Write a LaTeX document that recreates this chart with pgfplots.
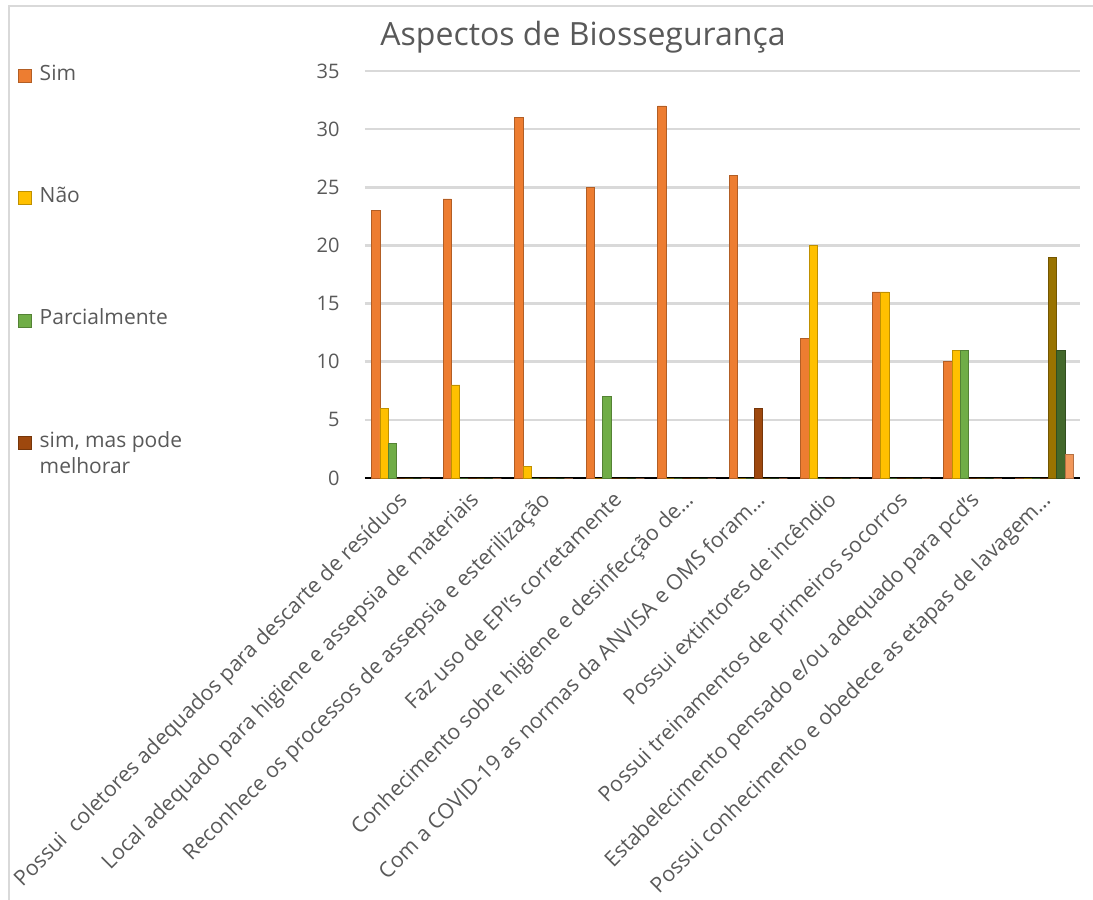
\documentclass[border=0pt]{standalone}
\usepackage{pgfplots}
\usepackage{pgfplotstable}
\pgfplotsset{compat=1.18}
\usepackage{fontspec}
\setmainfont{Open Sans}
\definecolor{cSim}{HTML}{ED7D31}
\definecolor{cNao}{HTML}{FFC000}
\definecolor{cPar}{HTML}{70AD47}
\definecolor{cMel}{HTML}{9E480E}
\definecolor{cOli}{HTML}{997300}
\definecolor{cDgr}{HTML}{43682B}
\definecolor{cLor}{HTML}{F1975A}
\definecolor{txt}{HTML}{595959}
\definecolor{gridc}{HTML}{D9D9D9}
\pgfplotstableread{
x s1 s2 s3 s4 s5 s6 s7
0 23 6 3 0 0 0 0
1 24 8 0 0 0 0 0
2 31 1 0 0 0 0 0
3 25 0 7 0 0 0 0
4 32 0 0 0 0 0 0
5 26 0 0 6 0 0 0
6 12 20 0 0 0 0 0
7 16 16 0 0 0 0 0
8 10 11 11 0 0 0 0
9 0 0 0 0 19 11 2
}\data
\begin{document}
\begin{tikzpicture}[x=1pt,y=1pt]
\path[use as bounding box] (0,0) rectangle (1093,900);
\draw[color=gridc, line width=1.5pt] (9,0) -- (9,894) -- (1093,894);
\node[font=\fontsize{32}{36}\selectfont, text=txt] at (583,863) {Aspectos de Biossegurança};
\begin{axis}[
  at={(365pt,422pt)}, anchor=south west,
  scale only axis, width=715pt, height=407pt,
  ybar=0pt, bar width=8.3pt,
  xmin=-0.5, xmax=9.5, ymin=0, ymax=35,
  ytick={0,5,...,35},
  xtick={0,...,9},
  xticklabels={{Possui\ \ coletores adequados para descarte de resíduos},
    {Local adequado para higiene e assepsia de materiais},
    {Reconhece os processos de assepsia e esterilização},
    {Faz uso de EPI's corretamente},
    {Conhecimento sobre higiene e desinfecção de…},
    {Com a COVID-19 as normas da ANVISA e OMS foram…},
    {Possui extintores de incêndio},
    {Possui treinamentos de primeiros socorros},
    {Estabelecimento pensado e/ou adequado para pcd's},
    {Possui conhecimento e obedece as etapas de lavagem…}},
  /pgf/number format/assume math mode=true,
  x tick label style={rotate=45, anchor=north east, font=\fontsize{21.3}{21.3}\selectfont, text=txt, inner sep=0pt, yshift=-5.5pt, xshift=-11pt},
  y tick label style={font=\fontsize{20}{20}\selectfont, text=txt, xshift=-22pt},
  major tick length=0pt,
  axis lines*=left,
  y axis line style={draw=none},
  x axis line style={black, line width=2pt, -},
  ymajorgrids, grid style={gridc, line width=2.5pt},
  legend style={at={(-0.485,1.02)}, anchor=north west, draw=none, fill=none,
    font=\fontsize{21}{26}\selectfont, text=txt, row sep=101pt, inner sep=0pt,
    nodes={anchor=base west}},
  legend cell align=left,
  legend image code/.code={\fill[#1] (0pt,-2pt) rectangle (13pt,11pt); \path[draw=none,fill=none] (0pt,0pt) rectangle (19pt,1pt);},
]
\addplot[fill=cSim, draw=cSim!75!black, line width=0.6pt] table[x=x,y=s1] {\data};
\addlegendentry{Sim}
\addplot[fill=cNao, draw=cNao!75!black, line width=0.6pt] table[x=x,y=s2] {\data};
\addlegendentry{Não}
\addplot[fill=cPar, draw=cPar!75!black, line width=0.6pt] table[x=x,y=s3] {\data};
\addlegendentry{Parcialmente}
\addplot[fill=cMel, draw=cMel!75!black, line width=0.6pt] table[x=x,y=s4] {\data};
\addlegendentry{\parbox[t]{150pt}{sim, mas pode\\melhorar}}
\addplot[fill=cOli, draw=cOli!75!black, line width=0.6pt] table[x=x,y=s5] {\data};
\addplot[fill=cDgr, draw=cDgr!75!black, line width=0.6pt] table[x=x,y=s6] {\data};
\addplot[fill=cLor, draw=cLor!75!black, line width=0.6pt] table[x=x,y=s7] {\data};
\end{axis}
\end{tikzpicture}
\end{document}
